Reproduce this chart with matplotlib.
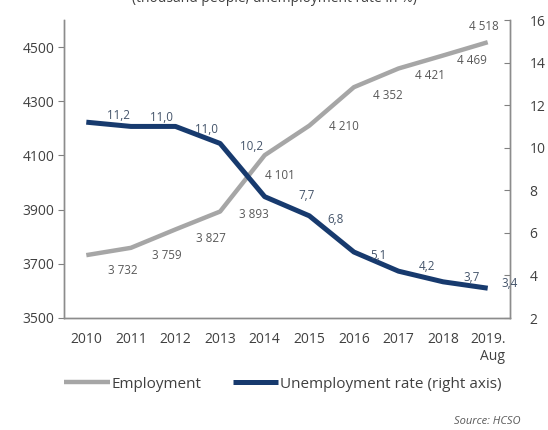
import matplotlib.pyplot as plt

# data
years = ["2010", "2011", "2012", "2013", "2014", "2015", "2016", "2017", "2018", "2019.\nAug"]
employment = [3732, 3759, 3827, 3893, 4101, 4210, 4352, 4421, 4469, 4518]
unemployment = [11.2, 11.0, 11.0, 10.2, 7.7, 6.8, 5.1, 4.2, 3.7, 3.4]

emp_labels = ["3 732", "3 759", "3 827", "3 893", "4 101", "4 210", "4 352", "4 421", "4 469", "4 518"]
unemp_labels = ["11,2", "11,0", "11,0", "10,2", "7,7", "6,8", "5,1", "4,2", "3,7", "3,4"]

# label offsets in pixels (dx right, dy up)
emp_off = [(37, -15), (36, -8), (35, -9), (34, -3), (15, -20), (35, -1), (34, -8), (31, -7), (29, -5), (-4, 16)]
unemp_off = [(32, 7), (31, 9), (31, -3), (31, -3), (42, 1), (26, -4), (24, -3), (29, 5), (28, 4), (22, 5)]

plt.rcParams['font.family'] = ['Open Sans', 'DejaVu Sans']

GRAY = "#a6a6a6"
NAVY = "#173a6e"
TXT = "#404040"

fig = plt.figure(figsize=(5.48, 4.30), dpi=100)
ax = fig.add_axes([64 / 548, 112 / 430, 446 / 548, 298 / 430])
ax2 = ax.twinx()

x = list(range(len(years)))
l1, = ax.plot(x, employment, color=GRAY, lw=3.2, solid_capstyle='butt', label="Employment")
l2, = ax2.plot(x, unemployment, color=NAVY, lw=3.6, solid_capstyle='butt',
               label="Unemployment rate (right axis)")

for xi, v, s, (dx, dy) in zip(x, employment, emp_labels, emp_off):
    ax.annotate(s, (xi, v), xytext=(dx, dy), textcoords='offset pixels',
                ha='center', va='center', fontsize=8.4, color="#595959")
for xi, v, s, (dx, dy) in zip(x, unemployment, unemp_labels, unemp_off):
    ax2.annotate(s, (xi, v), xytext=(dx, dy), textcoords='offset pixels',
                 ha='center', va='center', fontsize=8.4, color="#44546a")

ax.set_xlim(-0.5, 9.5)
ax.set_ylim(3500, 4600)
ax.set_yticks([3500, 3700, 3900, 4100, 4300, 4500])
ax2.set_ylim(2, 16)
ax2.set_yticks(range(2, 17, 2))

ax.set_xticks(x)
ax.set_xticklabels(years, multialignment='right')
ax.tick_params(axis='x', length=0, pad=10, labelsize=10, labelcolor=TXT)
ax.tick_params(axis='y', direction='out', length=4, color="#808080", pad=3,
               labelsize=10, labelcolor=TXT)
ax2.tick_params(axis='y', direction='in', length=4, color="#808080", pad=14,
                labelsize=10, labelcolor=TXT)

for a in (ax, ax2):
    a.spines['top'].set_visible(False)
    for s in ('left', 'right', 'bottom'):
        a.spines[s].set_color("#8c8c8c")
        a.spines[s].set_linewidth(1.0)

ax.set_zorder(ax2.get_zorder() - 1)
ax2.patch.set_visible(False)

# subtitle, mostly cut off at the top edge as in the source image
fig.text(0.5, 1 - 1.5 / 430, "(thousand people; unemployment rate in %)", ha='center',
         va='baseline', fontsize=10, color=TXT)

fig.legend(handles=[l1, l2], loc='center', bbox_to_anchor=(283 / 548, 1 - 384 / 430),
           ncol=2, frameon=False, fontsize=11, handlelength=3.0, handletextpad=0.12,
           columnspacing=2.0, labelcolor=TXT)

fig.text(521 / 548, 1 - 421 / 430, "Source: HCSO", ha='right', va='center',
         fontsize=8, style='italic', color="#595959")

plt.savefig("out.png", dpi=100)
plt.close()
